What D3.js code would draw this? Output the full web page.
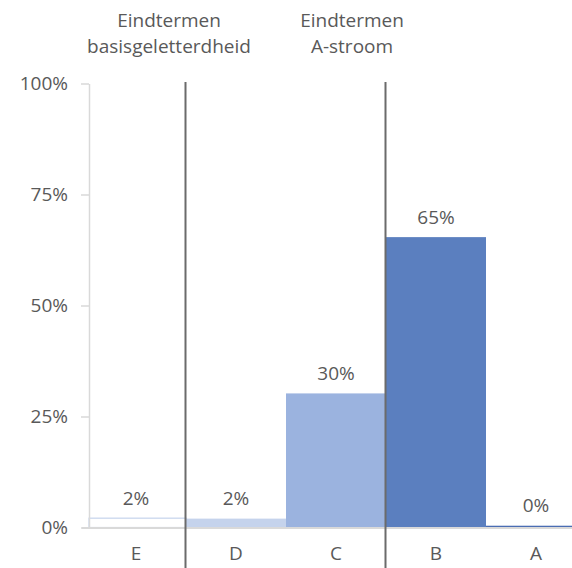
<!DOCTYPE html>
<html>
<head>
<meta charset="utf-8">
<script src="https://cdn.jsdelivr.net/npm/d3@7"></script>
<style>
  html, body { margin: 0; padding: 0; background: #fff; }
  svg { display: block; }
  text { font-family: "Open Sans", "Noto Sans", sans-serif; fill: #595959; }
</style>
</head>
<body>
<svg id="chart" width="572" height="568"></svg>
<script>
// ---- data ----
const categories = ["E", "D", "C", "B", "A"];
const values = [0.021, 0.020, 0.302, 0.654, 0.004];
const barColors = ["#ffffff", "#c5d3ec", "#9bb3df", "#5b7fbf", "#4a6db3"];
const barStrokes = ["#c5d3ec", "none", "none", "none", "none"];
const yTicks = [0, 0.25, 0.5, 0.75, 1];
const groupTitles = [
  { lines: ["Eindtermen", "basisgeletterdheid"], cx: 169 },
  { lines: ["Eindtermen", "A-stroom"], cx: 352 }
];
const separatorsBefore = ["D", "B"];

// ---- layout ----
const W = 572, H = 568;
const svg = d3.select("#chart");
const x = d3.scaleBand().domain(categories).range([86, 586]).padding(0);
const y = d3.scaleLinear().domain([0, 1]).range([527.5, 83.5]);
const axisX = 89;
const fmt = v => Math.round(v * 100) + "%";
const fontSize = 19;

// bars
svg.append("g").selectAll("rect").data(categories).join("rect")
  .attr("x", d => Math.max(x(d), axisX))
  .attr("width", d => x(d) + x.bandwidth() - Math.max(x(d), axisX))
  .attr("y", (d, i) => y(values[i]))
  .attr("height", (d, i) => y(0) - y(values[i]))
  .attr("fill", (d, i) => barColors[i])
  .attr("stroke", (d, i) => barStrokes[i])
  .attr("stroke-width", 1.2);

// value labels
svg.append("g").selectAll("text").data(categories).join("text")
  .attr("x", d => x(d) + x.bandwidth() / 2)
  .attr("y", (d, i) => y(values[i]) - 13.5)
  .attr("text-anchor", "middle")
  .attr("font-size", fontSize)
  .text((d, i) => fmt(values[i]));

// y axis
const yAxis = svg.append("g")
  .attr("transform", `translate(${axisX},0)`)
  .call(d3.axisLeft(y).tickValues(yTicks).tickFormat(d3.format(".0%"))
        .tickSize(8).tickSizeOuter(0).tickPadding(13));
yAxis.select(".domain").attr("stroke", "#d9d9d9").attr("stroke-width", 1.5);
yAxis.selectAll(".tick line").attr("stroke", "#d9d9d9").attr("stroke-width", 1.5);
yAxis.selectAll(".tick text").attr("font-size", fontSize).attr("fill", "#595959")
  .style("font-family", "\"Open Sans\", \"Noto Sans\", sans-serif");

// baseline
svg.append("line")
  .attr("x1", axisX - 7).attr("x2", W)
  .attr("y1", y(0) + 0.5).attr("y2", y(0) + 0.5)
  .attr("stroke", "#d9d9d9").attr("stroke-width", 2);

// separators
svg.append("g").selectAll("line").data(separatorsBefore).join("line")
  .attr("x1", d => x(d) - 0.5).attr("x2", d => x(d) - 0.5)
  .attr("y1", 82).attr("y2", H)
  .attr("stroke", "#6b6b6b").attr("stroke-width", 2);

// x labels
svg.append("g").selectAll("text").data(categories).join("text")
  .attr("x", d => x(d) + x.bandwidth() / 2)
  .attr("y", 560)
  .attr("text-anchor", "middle")
  .attr("font-size", fontSize)
  .text(d => d);

// group titles
groupTitles.forEach(g => {
  const t = svg.append("text")
    .attr("text-anchor", "middle")
    .attr("font-size", fontSize);
  g.lines.forEach((ln, i) => {
    t.append("tspan").attr("x", g.cx).attr("y", 27 + i * 26).text(ln);
  });
});
</script>
</body>
</html>
